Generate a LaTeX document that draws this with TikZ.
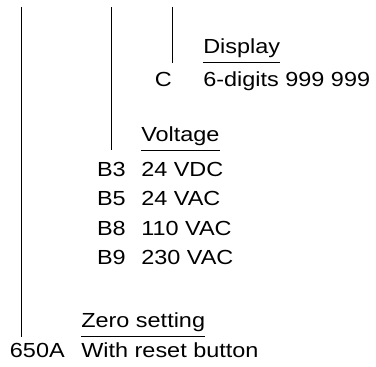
\documentclass[tikz,border=0pt]{standalone}
\usepackage{fontspec}
\setmainfont[FakeStretch=1.15]{Liberation Sans}
\usetikzlibrary{positioning}

\begin{document}
\begin{tikzpicture}[x=0.025cm,y=-0.025cm,font=\fontsize{14.5}{17}\selectfont,
  code/.style={anchor=base east,inner sep=0pt},
  desc/.style={anchor=base west,inner sep=0pt},
  heading/.style={desc,text depth=6.1pt},
  stem/.style={line width=.6pt}]
  \useasboundingbox (0,0) rectangle (376,367);
  % display
  \node[heading] (disp) at (203,53.7) {Display};
  \node[desc] (dispC) at (203,86.5) {6-digits 999 999};
  \node[code] (codeC) at (172,86.5) {C};
  % voltage
  \node[heading] (volt) at (141,141.5) {Voltage};
  \node[desc] (voltB3) at (141,176.3) {24 VDC};
  \node[desc] (voltB5) at (141,205.8) {24 VAC};
  \node[desc] (voltB8) at (141,235.3) {110 VAC};
  \node[desc] (voltB9) at (141,264.8) {230 VAC};
  \node[code] (codeB3) at (126,176.3) {B3};
  \node[code] (codeB5) at (126,205.8) {B5};
  \node[code] (codeB8) at (126,235.3) {B8};
  \node[code] (codeB9) at (126,264.8) {B9};
  % zero setting
  \node[heading] (zero) at (81,328) {Zero setting};
  \node[desc] (zeroA) at (81,357.3) {With reset button};
  \node[code] (codeA) at (65,357.3) {650A};
  % underlines
  \draw[stem] (disp.south west) -- (disp.south east);
  \draw[stem] (volt.south west) -- (volt.south east);
  \draw[stem] (zero.south west) -- (zero.south east);
  % stems
  \coordinate (top1) at (21,7);
  \coordinate (top2) at (111,7);
  \coordinate (top3) at (172,7);
  \draw[stem] (top1) -- (top1 |- zero.south);
  \draw[stem] (top2) -- (top2 |- volt.south);
  \draw[stem] (top3) -- (top3 |- disp.south);
\end{tikzpicture}
\end{document}
